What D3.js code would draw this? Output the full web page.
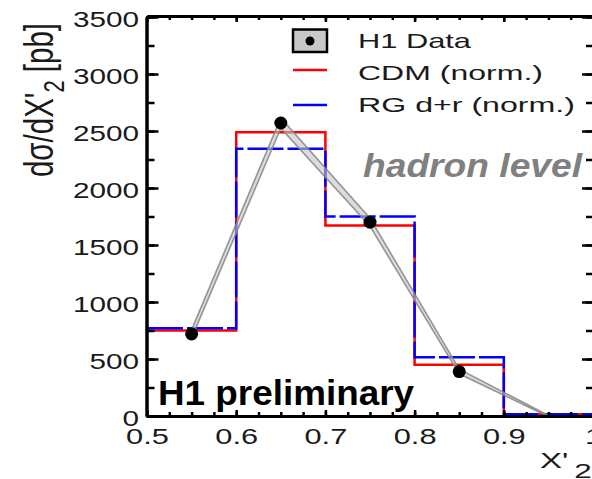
<!DOCTYPE html>
<html>
<head>
<meta charset="utf-8">
<script src="https://cdn.jsdelivr.net/npm/d3@7"></script>
<style>
  html, body { margin: 0; padding: 0; background: #fff; }
  svg { display: block; font-family: "Liberation Sans", Arial, sans-serif; }
</style>
</head>
<body>
<svg id="chart" width="592" height="479"></svg>
<script>
// Bin edges in X'_2 and the two normalised model predictions (pb)
const binEdges = [0.5, 0.6, 0.7, 0.8, 0.9, 1.0];
const cdmValues = [750, 2490, 1670, 450, 15];
const rgdrValues = [770, 2345, 1750, 516, 15];

// H1 measurement at bin centres with its error band
const dataX = [0.55, 0.65, 0.75, 0.85, 0.95];
const dataY = [720, 2570, 1700, 390, 0];
const dataErr = [35, 45, 35, 20, 5];

// Axis ticks
const xMajorTicks = [0.5, 0.6, 0.7, 0.8, 0.9, 1.0];
const xTickLabels = ["0.5", "0.6", "0.7", "0.8", "0.9", "1"];
const yMajorTicks = [0, 500, 1000, 1500, 2000, 2500, 3000, 3500];
const xMinorTicks = d3.range(0, 21).map(i => 0.5 + i * 0.025);
const yMinorTicks = d3.range(0, 15).map(i => i * 250);

const svg = d3.select("#chart");
const plotL = 147, plotR = 593, plotT = 17, plotB = 416;

const x = d3.scaleLinear().domain([0.5, 1.0]).range([plotL, plotR]);
const y = d3.scaleLinear().domain([0, 3500]).range([plotB, plotT]);

svg.append("defs").append("clipPath").attr("id", "plotClip")
  .append("rect").attr("x", plotL).attr("y", plotT)
  .attr("width", plotR - plotL).attr("height", plotB - plotT);

const plot = svg.append("g").attr("clip-path", "url(#plotClip)");

// Step histograms built from bin edges
function stepPoints(vals) {
  const pts = [];
  vals.forEach((v, i) => { pts.push([binEdges[i], v]); pts.push([binEdges[i + 1], v]); });
  return pts;
}
const stepLine = d3.line().x(d => x(d[0])).y(d => y(d[1]));

plot.append("path").attr("d", stepLine(stepPoints(cdmValues)))
  .attr("fill", "none").attr("stroke", "#ff0000").attr("stroke-width", 2.5);
plot.append("path").attr("d", stepLine(stepPoints(rgdrValues)))
  .attr("fill", "none").attr("stroke", "#0000ff").attr("stroke-width", 2.5)
  .attr("stroke-dasharray", "36,4");

// Error band of the measurement
const band = d3.area()
  .x((d, i) => x(dataX[i]))
  .y0((d, i) => y(dataY[i] - dataErr[i]))
  .y1((d, i) => y(dataY[i] + dataErr[i]));
plot.append("path").attr("d", band(dataY))
  .attr("fill", "#c4c4c4").attr("fill-opacity", 0.6)
  .attr("stroke", "#858585").attr("stroke-opacity", 0.85).attr("stroke-width", 1.6);

// Data points (empty bins carry no marker)
const pts = dataY.map((v, i) => ({ x: dataX[i], v })).filter(d => d.v > 0);
plot.selectAll("circle.pt").data(pts).join("circle")
  .attr("class", "pt")
  .attr("cx", d => x(d.x)).attr("cy", d => y(d.v))
  .attr("r", 6.5).attr("fill", "#000");

// Axes
const axisStroke = g => {
  g.selectAll(".domain").attr("stroke", "#000").attr("stroke-width", 3);
  g.selectAll(".tick line").attr("stroke", "#000").attr("stroke-width", 2.5);
};
const noLabels = g => g.selectAll("text").remove();

// bottom
svg.append("g").attr("transform", `translate(0,${plotB})`)
  .call(d3.axisBottom(x).tickValues(xMinorTicks).tickSize(-4).tickSizeOuter(0))
  .call(axisStroke).call(noLabels);
const xAxis = svg.append("g").attr("transform", `translate(0,${plotB})`)
  .call(d3.axisBottom(x).tickValues(xMajorTicks).tickSize(-6).tickSizeOuter(0)
    .tickFormat((d, i) => xTickLabels[i]))
  .call(axisStroke);
xAxis.selectAll("text")
  .attr("y", 28).attr("dy", 0).attr("x", 0)
  .attr("transform", "scale(1.4,1)")
  .attr("font-size", 22).attr("fill", "#1a1a1a")
  .attr("font-family", "'Liberation Sans', Arial, sans-serif");

// top
svg.append("g").attr("transform", `translate(0,${plotT - 1})`)
  .call(d3.axisTop(x).tickValues(xMinorTicks).tickSize(-4).tickSizeOuter(0))
  .call(axisStroke).call(noLabels);
svg.append("g").attr("transform", `translate(0,${plotT - 1})`)
  .call(d3.axisTop(x).tickValues(xMajorTicks).tickSize(-6).tickSizeOuter(0))
  .call(axisStroke).call(noLabels);

// left
svg.append("g").attr("transform", `translate(${plotL - 0.5},0)`)
  .call(d3.axisLeft(y).tickValues(yMinorTicks).tickSize(-8).tickSizeOuter(0))
  .call(axisStroke).call(noLabels);
const yAxis = svg.append("g").attr("transform", `translate(${plotL - 0.5},0)`)
  .call(d3.axisLeft(y).tickValues(yMajorTicks).tickSize(-12).tickSizeOuter(0)
    .tickFormat(d3.format("d")))
  .call(axisStroke);
yAxis.selectAll("text")
  .attr("x", -7.5 / 1.35).attr("y", 9.5).attr("dy", 0)
  .attr("transform", "scale(1.35,1)")
  .attr("font-size", 22).attr("fill", "#1a1a1a")
  .attr("font-family", "'Liberation Sans', Arial, sans-serif");

// right
svg.append("g").attr("transform", `translate(${plotR + 1},0)`)
  .call(d3.axisRight(y).tickValues(yMinorTicks).tickSize(-8).tickSizeOuter(0))
  .call(axisStroke).call(noLabels);
svg.append("g").attr("transform", `translate(${plotR + 1},0)`)
  .call(d3.axisRight(y).tickValues(yMajorTicks).tickSize(-12).tickSizeOuter(0))
  .call(axisStroke).call(noLabels);

// Axis titles
const yTitle = svg.append("g").attr("transform", "translate(53,100) scale(1.35,1) rotate(-90)")
  .append("text").attr("text-anchor", "middle").attr("font-size", 29.5).attr("fill", "#1a1a1a");
yTitle.append("tspan").text("d\u03c3/dX'");
yTitle.append("tspan").attr("font-size", 22).attr("dy", 8).text("2");
yTitle.append("tspan").attr("dy", -8).text(" [pb]");

const xTitle = svg.append("g").attr("transform", "translate(540,468) scale(1.5,1)")
  .append("text").attr("font-size", 22).attr("fill", "#1a1a1a");
xTitle.append("tspan").text("X'");
xTitle.append("tspan").attr("font-size", 21).attr("dx", 4).attr("dy", 10).text("2");

// Legend
const legend = svg.append("g");
legend.append("rect").attr("x", 293).attr("y", 29.5).attr("width", 34).attr("height", 22.5)
  .attr("fill", "#c8c8c8").attr("stroke", "#000").attr("stroke-width", 2.5);
legend.append("circle").attr("cx", 310).attr("cy", 41).attr("r", 4.5).attr("fill", "#000");
legend.append("line").attr("x1", 293).attr("x2", 327).attr("y1", 70).attr("y2", 70)
  .attr("stroke", "#ff0000").attr("stroke-width", 2.5);
legend.append("line").attr("x1", 293).attr("x2", 327).attr("y1", 105).attr("y2", 105)
  .attr("stroke", "#0000ff").attr("stroke-width", 2.5);
const legendItems = [
  { text: "H1 Data", base: 47.5, len: 113 },
  { text: "CDM (norm.)", base: 80, len: 185 },
  { text: "RG d+r (norm.)", base: 111.5, len: 217 }
];
legend.selectAll("text.lg").data(legendItems).join("text")
  .attr("class", "lg")
  .attr("x", 358).attr("y", d => d.base)
  .attr("font-size", 21).attr("fill", "#1a1a1a")
  .attr("textLength", d => d.len).attr("lengthAdjust", "spacingAndGlyphs")
  .text(d => d.text);

// Annotations
svg.append("text").attr("x", 363).attr("y", 176.5)
  .attr("font-size", 33).attr("font-weight", "bold").attr("font-style", "italic")
  .attr("fill", "#808080")
  .attr("textLength", 219).attr("lengthAdjust", "spacingAndGlyphs")
  .text("hadron level");

svg.append("text").attr("x", 158).attr("y", 405)
  .attr("font-size", 35).attr("font-weight", "bold").attr("fill", "#000")
  .attr("textLength", 256).attr("lengthAdjust", "spacingAndGlyphs")
  .text("H1 preliminary");
</script>
</body>
</html>
